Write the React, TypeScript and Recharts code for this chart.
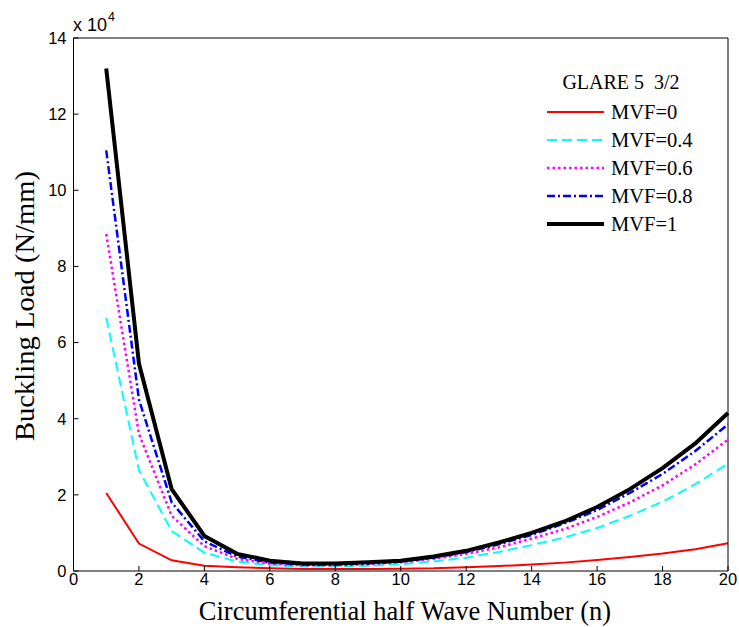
import React from 'react';
import { LineChart, Line, XAxis, YAxis, Legend } from 'recharts';

// circumferential half wave number
const waveNumbers = [1, 2, 3, 4, 5, 6, 7, 8, 9, 10, 11, 12, 13, 14, 15, 16, 17, 18, 19, 20];

// buckling load, in units of 1e4 N/mm
const mvf0 = [2.05, 0.72, 0.28, 0.14, 0.1, 0.07, 0.05, 0.05, 0.05, 0.06, 0.07, 0.1, 0.13, 0.17, 0.22, 0.29, 0.37, 0.46, 0.57, 0.73];
const mvf04 = [6.65, 2.65, 1.05, 0.48, 0.25, 0.15, 0.12, 0.12, 0.14, 0.18, 0.25, 0.35, 0.5, 0.68, 0.88, 1.13, 1.45, 1.82, 2.28, 2.82];
const mvf06 = [8.85, 3.6, 1.45, 0.65, 0.32, 0.19, 0.15, 0.15, 0.18, 0.23, 0.32, 0.45, 0.62, 0.85, 1.1, 1.42, 1.8, 2.25, 2.8, 3.45];
const mvf08 = [11.05, 4.5, 1.8, 0.78, 0.38, 0.22, 0.17, 0.17, 0.2, 0.25, 0.35, 0.5, 0.7, 0.95, 1.25, 1.6, 2.05, 2.55, 3.15, 3.85];
const mvf1 = [13.2, 5.45, 2.15, 0.92, 0.45, 0.27, 0.2, 0.2, 0.23, 0.27, 0.38, 0.53, 0.75, 1.0, 1.3, 1.68, 2.15, 2.7, 3.35, 4.15];

const xTicks = [0, 2, 4, 6, 8, 10, 12, 14, 16, 18, 20];
const yTicks = [0, 2, 4, 6, 8, 10, 12, 14];

const SERIES = [
  { key: 'mvf0', name: 'MVF=0', color: '#ff0000', width: 2, dash: undefined },
  { key: 'mvf04', name: 'MVF=0.4', color: '#00ffff', width: 2, dash: '10 5' },
  { key: 'mvf06', name: 'MVF=0.6', color: '#ff00ff', width: 2.5, dash: '2.5 3' },
  { key: 'mvf08', name: 'MVF=0.8', color: '#0000ff', width: 2.5, dash: '8 3 2 3' },
  { key: 'mvf1', name: 'MVF=1', color: '#000000', width: 4, dash: undefined },
];

const data = waveNumbers.map((n, i) => ({
  n,
  mvf0: mvf0[i],
  mvf04: mvf04[i],
  mvf06: mvf06[i],
  mvf08: mvf08[i],
  mvf1: mvf1[i],
}));

const SANS = '"Liberation Sans", Arial, sans-serif';
const SERIF = '"Liberation Serif", "Times New Roman", serif';
const TICK_FONT = { fill: '#000', fontSize: 16.5, fontFamily: SANS };

const renderLegend = () => (
  <div style={{ fontFamily: SERIF, color: '#000', textAlign: 'left' }}>
    <div style={{ fontSize: 20, textAlign: 'center', width: 150, lineHeight: '24px', marginBottom: 4, whiteSpace: 'pre' }}>
      GLARE 5  3/2
    </div>
    {SERIES.map((s) => (
      <div key={s.key} style={{ display: 'flex', alignItems: 'center', height: 28 }}>
        <svg width={60} height={10} style={{ marginRight: 5 }}>
          <line x1={1} y1={5} x2={58} y2={5} stroke={s.color} strokeWidth={s.width} strokeDasharray={s.dash} />
        </svg>
        <span style={{ fontSize: 20.5 }}>{s.name}</span>
      </div>
    ))}
  </div>
);

const App: React.FC = () => {
  return (
    <div style={{ position: 'absolute', left: 0, top: 0, width: 739, height: 627, background: '#fff' }}>
      <LineChart width={739} height={627} data={data} margin={{ top: 37, right: 10, left: 0, bottom: 0 }}>
        <XAxis
          dataKey="n"
          type="number"
          domain={[0, 20]}
          ticks={xTicks}
          height={56}
          tickSize={-5}
          tickMargin={7}
          tick={TICK_FONT}
          axisLine={{ stroke: '#000' }}
          tickLine={{ stroke: '#000' }}
        />
        <XAxis
          xAxisId="top"
          orientation="top"
          dataKey="n"
          type="number"
          domain={[0, 20]}
          ticks={xTicks}
          height={1}
          tickSize={-5}
          tick={false}
          axisLine={{ stroke: '#000' }}
          tickLine={{ stroke: '#000' }}
        />
        <YAxis
          type="number"
          domain={[0, 14]}
          ticks={yTicks}
          width={73.5}
          tickSize={-5}
          tickMargin={12}
          tick={TICK_FONT}
          axisLine={{ stroke: '#000' }}
          tickLine={{ stroke: '#000' }}
        />
        <YAxis
          yAxisId="right"
          orientation="right"
          type="number"
          domain={[0, 14]}
          ticks={yTicks}
          width={1}
          tickSize={-5}
          tick={false}
          axisLine={{ stroke: '#000' }}
          tickLine={{ stroke: '#000' }}
        />
        <Legend
          layout="horizontal"
          verticalAlign="middle"
          align="center"
          content={renderLegend}
          wrapperStyle={{ position: 'absolute', left: 546, top: 70, width: 180, height: 170 }}
        />
        {SERIES.map((s) => (
          <Line
            key={s.key}
            type="linear"
            dataKey={s.key}
            name={s.name}
            stroke={s.color}
            strokeWidth={s.width}
            strokeDasharray={s.dash}
            dot={false}
            activeDot={false}
            isAnimationActive={false}
          />
        ))}
      </LineChart>
      <div style={{ position: 'absolute', left: 73, top: 16, fontSize: 18, lineHeight: '18px', fontFamily: SANS, whiteSpace: 'nowrap' }}>
        x 10<span style={{ position: 'relative', top: -10, fontSize: 12.5, marginLeft: 1 }}>4</span>
      </div>
      <div
        style={{
          position: 'absolute',
          left: 25,
          top: 306,
          transform: 'translate(-50%, -50%) rotate(-90deg) scaleX(1.04)',
          whiteSpace: 'nowrap',
          fontSize: 27.5,
          fontFamily: SERIF,
        }}
      >
        Buckling Load (N/mm)
      </div>
      <div
        style={{
          position: 'absolute',
          left: 405,
          top: 611,
          transform: 'translate(-50%, -50%)',
          whiteSpace: 'nowrap',
          fontSize: 26.5,
          fontFamily: SERIF,
        }}
      >
        Circumferential half Wave Number (n)
      </div>
    </div>
  );
};

export default App;
